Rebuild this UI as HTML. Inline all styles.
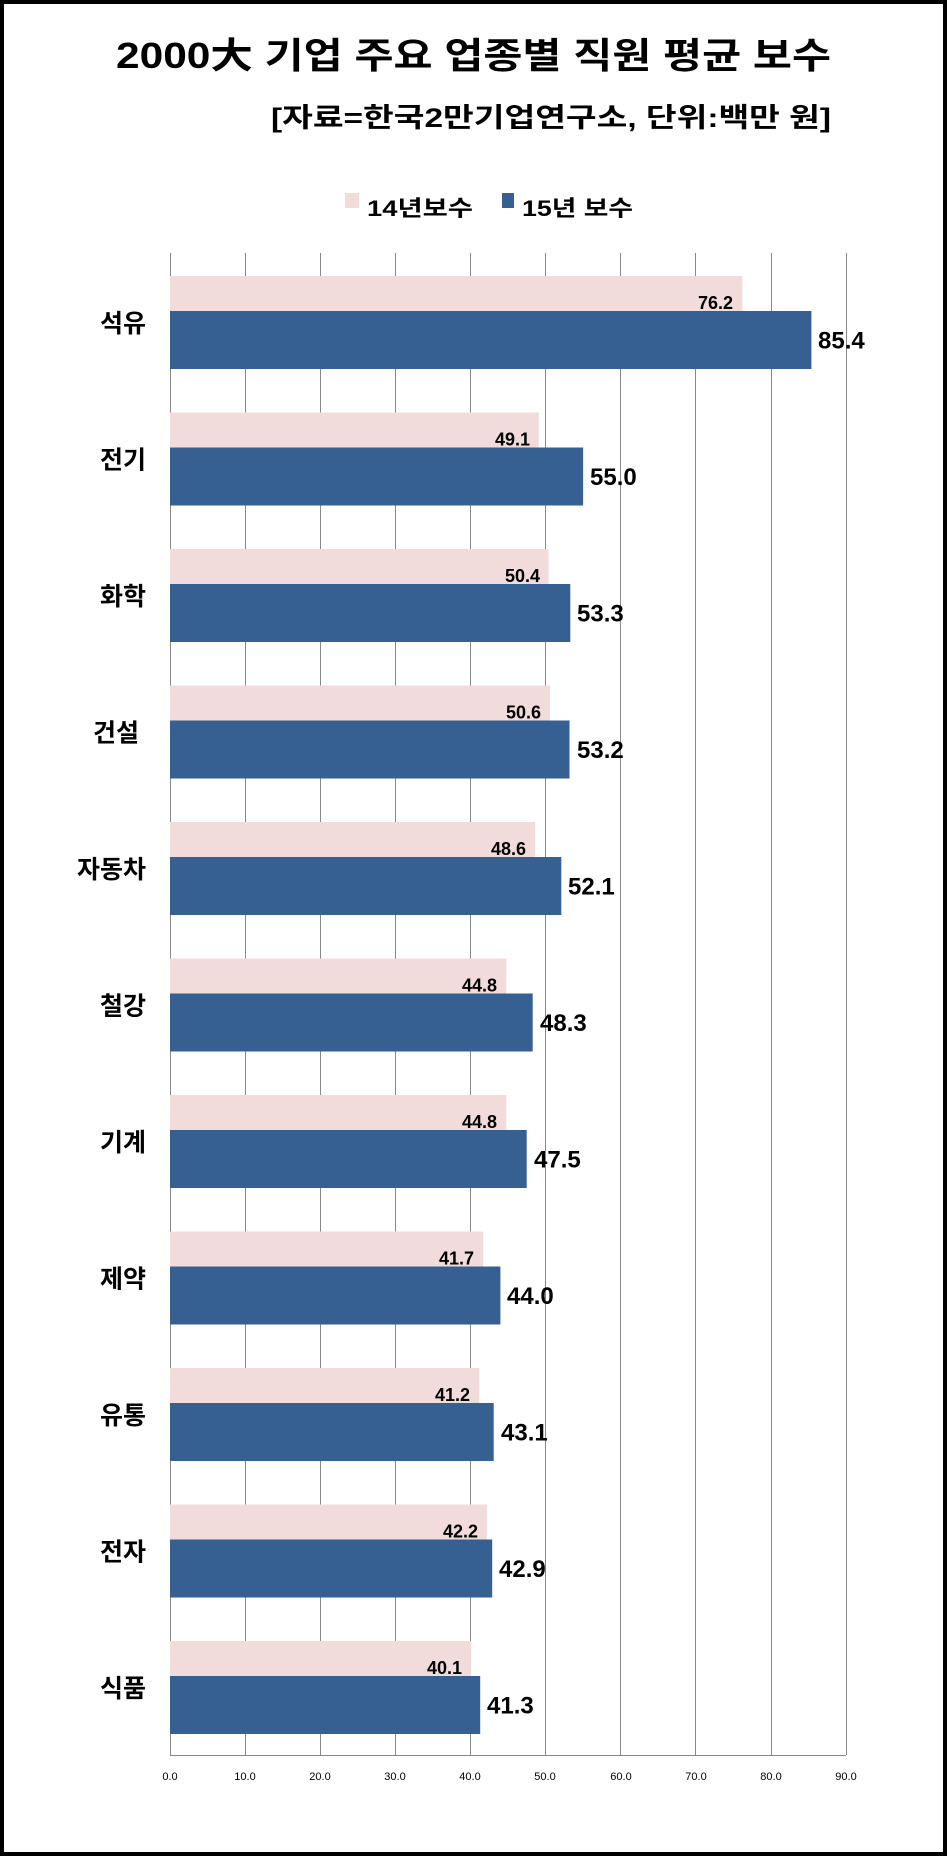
<!DOCTYPE html>
<html><head><meta charset="utf-8"><style>
html,body{margin:0;padding:0;background:#fff;}
svg{display:block;}
text{font-family:"Liberation Sans","Noto Sans CJK KR",sans-serif;font-weight:bold;fill:#000;}
.cat{font-size:25px;text-anchor:end;dominant-baseline:central;}
.pl{font-size:18px;text-anchor:end;dominant-baseline:central;}
.bl{font-size:24px;text-anchor:start;dominant-baseline:central;}
.tk{font-size:11px;font-weight:normal;text-anchor:middle;dominant-baseline:central;}
</style></head><body>
<svg width="947" height="1856" viewBox="0 0 947 1856">
<rect x="2" y="2" width="943" height="1852" fill="#fff" stroke="#000" stroke-width="4"/>
<text x="116" y="68" font-size="36" textLength="715" lengthAdjust="spacingAndGlyphs">2000大 기업 주요 업종별 직원 평균 보수</text>
<text x="271" y="127" font-size="27" font-weight="normal" textLength="560" lengthAdjust="spacingAndGlyphs">[자료=한국2만기업연구소, 단위:백만 원]</text>
<rect x="345" y="193" width="14" height="15" fill="#f2dcdb"/>
<text x="367" y="216" font-size="22" textLength="106" lengthAdjust="spacingAndGlyphs">14년보수</text>
<rect x="502" y="193" width="12" height="15" fill="#376092"/>
<text x="522" y="216" font-size="22" textLength="111" lengthAdjust="spacingAndGlyphs">15년 보수</text>
<g stroke="#888" stroke-width="1">
<line x1="170.5" y1="253" x2="170.5" y2="1755"/>
<line x1="245.5" y1="253" x2="245.5" y2="1755"/>
<line x1="320.5" y1="253" x2="320.5" y2="1755"/>
<line x1="395.5" y1="253" x2="395.5" y2="1755"/>
<line x1="470.5" y1="253" x2="470.5" y2="1755"/>
<line x1="545.5" y1="253" x2="545.5" y2="1755"/>
<line x1="620.5" y1="253" x2="620.5" y2="1755"/>
<line x1="695.5" y1="253" x2="695.5" y2="1755"/>
<line x1="771.5" y1="253" x2="771.5" y2="1755"/>
<line x1="846.5" y1="253" x2="846.5" y2="1755"/>
<line x1="170" y1="1755.5" x2="846" y2="1755.5"/>
</g>
<g class="tk">
<text class="tk" x="170" y="1777">0.0</text><text class="tk" x="245" y="1777">10.0</text><text class="tk" x="320" y="1777">20.0</text><text class="tk" x="395" y="1777">30.0</text><text class="tk" x="470" y="1777">40.0</text><text class="tk" x="545" y="1777">50.0</text><text class="tk" x="621" y="1777">60.0</text><text class="tk" x="696" y="1777">70.0</text><text class="tk" x="771" y="1777">80.0</text><text class="tk" x="846" y="1777">90.0</text>
</g>
<g fill="#f2dcdb">
<rect x="170" y="276" width="572.3" height="57"/>
<rect x="170" y="412.5" width="368.7" height="57"/>
<rect x="170" y="549" width="378.5" height="57"/>
<rect x="170" y="685.5" width="380" height="57"/>
<rect x="170" y="822" width="365" height="57"/>
<rect x="170" y="958.5" width="336.4" height="57"/>
<rect x="170" y="1095" width="336.4" height="57"/>
<rect x="170" y="1231.5" width="313.2" height="57"/>
<rect x="170" y="1368" width="309.4" height="57"/>
<rect x="170" y="1504.5" width="316.9" height="57"/>
<rect x="170" y="1641" width="301.2" height="57"/>
</g>
<g fill="#376092">
<rect x="170" y="311" width="641.4" height="58"/>
<rect x="170" y="447.5" width="413.1" height="58"/>
<rect x="170" y="584" width="400.3" height="58"/>
<rect x="170" y="720.5" width="399.5" height="58"/>
<rect x="170" y="857" width="391.3" height="58"/>
<rect x="170" y="993.5" width="362.7" height="58"/>
<rect x="170" y="1130" width="356.7" height="58"/>
<rect x="170" y="1266.5" width="330.4" height="58"/>
<rect x="170" y="1403" width="323.7" height="58"/>
<rect x="170" y="1539.5" width="322.2" height="58"/>
<rect x="170" y="1676" width="310.2" height="58"/>
</g>
<text class="cat" x="146" y="324">석유</text>
<text class="cat" x="146" y="460.5">전기</text>
<text class="cat" x="146" y="597">화학</text>
<text class="cat" x="139" y="733.5">건설</text>
<text class="cat" x="146" y="870">자동차</text>
<text class="cat" x="146" y="1006.5">철강</text>
<text class="cat" x="146" y="1143">기계</text>
<text class="cat" x="146" y="1279.5">제약</text>
<text class="cat" x="146" y="1416">유통</text>
<text class="cat" x="146" y="1552.5">전자</text>
<text class="cat" x="146" y="1689">식품</text>
<g transform="translate(0,-3)">
<text class="pl" x="733" y="306">76.2</text>
<text class="pl" x="530" y="442.5">49.1</text>
<text class="pl" x="540" y="579">50.4</text>
<text class="pl" x="541" y="715.5">50.6</text>
<text class="pl" x="526" y="852">48.6</text>
<text class="pl" x="497" y="988.5">44.8</text>
<text class="pl" x="497" y="1125">44.8</text>
<text class="pl" x="474" y="1261.5">41.7</text>
<text class="pl" x="470" y="1398">41.2</text>
<text class="pl" x="478" y="1534.5">42.2</text>
<text class="pl" x="462" y="1671">40.1</text>
</g>
<text class="bl" x="818" y="341">85.4</text>
<text class="bl" x="590" y="477.5">55.0</text>
<text class="bl" x="577" y="614">53.3</text>
<text class="bl" x="577" y="750.5">53.2</text>
<text class="bl" x="568" y="887">52.1</text>
<text class="bl" x="540" y="1023.5">48.3</text>
<text class="bl" x="534" y="1160">47.5</text>
<text class="bl" x="507" y="1296.5">44.0</text>
<text class="bl" x="501" y="1433">43.1</text>
<text class="bl" x="499" y="1569.5">42.9</text>
<text class="bl" x="487" y="1706">41.3</text>
</svg>
</body></html>
